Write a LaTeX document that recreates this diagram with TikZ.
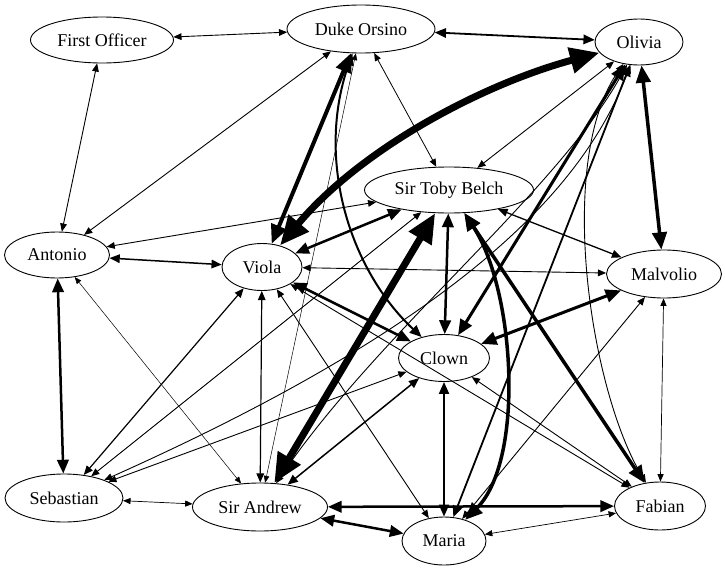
\documentclass[tikz,border=0pt]{standalone}
\usepackage{fontspec}
\setmainfont{Liberation Serif}
\usetikzlibrary{shapes.geometric,arrows.meta}
\tikzset{
  actor/.style={ellipse, draw, line width=0.9pt, inner sep=0pt, font=\fontsize{18}{20}\selectfont},
  link/.style={line width=#1, {Triangle[length=5pt 3.5,width=4pt 3]}-{Triangle[length=5pt 3.5,width=4pt 3]}},
}
\begin{document}
\begin{tikzpicture}[x=1pt, y=-1pt]
\useasboundingbox (0,0) rectangle (725,570);
% characters
\node[actor, minimum width=143pt, minimum height=46pt] (FO) at (102,40) {First Officer};
\node[actor, minimum width=148pt, minimum height=48pt] (DO) at (361,29) {Duke Orsino};
\node[actor, minimum width=88pt, minimum height=46pt] (OL) at (639,42) {Olivia};
\node[actor, minimum width=169pt, minimum height=46pt] (TB) at (449,190) {Sir Toby Belch};
\node[actor, minimum width=105pt, minimum height=46pt] (AN) at (57,255) {Antonio};
\node[actor, minimum width=80pt, minimum height=47pt] (VI) at (262,267) {Viola};
\node[actor, minimum width=115pt, minimum height=48pt] (MV) at (664,274) {Malvolio};
\node[actor, minimum width=91pt, minimum height=47pt] (CL) at (444,358) {Clown};
\node[actor, minimum width=118pt, minimum height=48pt] (SE) at (64,498) {Sebastian};
\node[actor, minimum width=135pt, minimum height=48pt] (SA) at (260,507) {Sir Andrew};
\node[actor, minimum width=91pt, minimum height=48pt] (FA) at (660,506) {Fabian};
\node[actor, minimum width=84pt, minimum height=48pt] (MA) at (444,541) {Maria};
% straight ties
\draw[link=0.9pt] (FO) -- (DO);
\draw[link=0.9pt] (FO) -- (AN);
\draw[link=0.9pt] (DO) -- (AN);
\draw[link=1.8pt] (DO) -- (OL);
\draw[link=4pt] (DO) -- (VI);
\draw[link=0.8pt] (DO) -- (TB);
\draw[link=0.5pt] (DO) -- (SA);
\draw[link=0.9pt] (OL) -- (TB);
\draw[link=3.5pt] (OL) -- (MV);
\draw[link=3pt] (OL) -- (CL);
\draw[link=1.8pt] (OL) -- (MA);
\draw[link=0.9pt] (TB) -- (AN);
\draw[link=2.5pt] (TB) -- (VI);
\draw[link=2.5pt] (TB) -- (CL);
\draw[link=7pt] (TB) -- (SA);
\draw[link=3.5pt] (TB) -- (FA);
\draw[link=1.3pt] (TB) -- (MV);
\draw[link=0.9pt] (TB) -- (SE);
\draw[link=1.5pt] (AN) -- (VI);
\draw[link=2.5pt] (AN) -- (SE);
\draw[link=0.5pt] (AN) -- (SA);
\draw[link=0.9pt] (VI) -- (MV);
\draw[link=2.5pt] (VI) -- (CL);
\draw[link=1.2pt] (VI) -- (SE);
\draw[link=1.2pt] (VI) -- (SA);
\draw[link=0.9pt] (VI) -- (FA);
\draw[link=0.9pt] (VI) -- (MA);
\draw[link=3pt] (MV) -- (CL);
\draw[link=0.9pt] (MV) -- (MA);
\draw[link=0.7pt] (MV) -- (FA);
\draw[link=0.9pt] (CL) -- (SE);
\draw[link=1.5pt] (CL) -- (SA);
\draw[link=2pt] (CL) -- (MA);
\draw[link=0.9pt] (CL) -- (FA);
\draw[link=0.7pt] (SE) -- (SA);
\draw[link=2.5pt] (SA) -- (FA);
\draw[link=2.5pt] (SA) -- (MA);
\draw[link=0.7pt] (MA) -- (FA);
% curved ties
\draw[link=2pt] (DO) .. controls (315,160) and (350,270) .. (CL);
\draw[link=7pt] (OL) .. controls (480,85) and (360,150) .. (VI);
\draw[link=3.5pt] (TB) .. controls (515,290) and (525,460) .. (MA);
\draw[link=0.9pt] (OL) .. controls (555,160) and (590,390) .. (FA);
\draw[link=0.9pt] (OL) .. controls (580,200) and (440,330) .. (SE);
\draw[link=0.9pt] (OL) .. controls (560,190) and (380,330) .. (SA);
\end{tikzpicture}
\end{document}
